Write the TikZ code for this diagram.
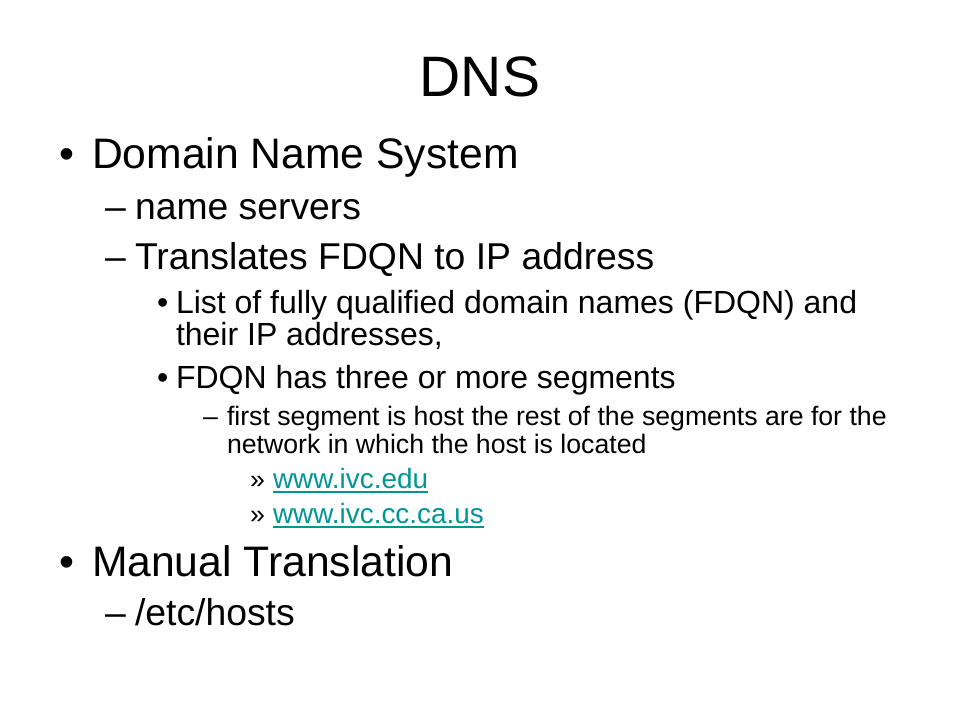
\documentclass[tikz,border=0pt]{standalone}
\usepackage{fontspec}
\setmainfont{Liberation Sans}
\definecolor{linkteal}{RGB}{0,150,150}
\tikzset{
  txt/.style={inner sep=0pt, outer sep=0pt, anchor=base west, text=black},
  lvtitle/.style={inner sep=0pt, outer sep=0pt, anchor=base, font=\fontsize{57bp}{60bp}\selectfont},
  lvone/.style={txt, font=\fontsize{42.67bp}{46bp}\selectfont},
  lvtwo/.style={txt, font=\fontsize{37.33bp}{40bp}\selectfont},
  lvthree/.style={txt, font=\fontsize{32bp}{34bp}\selectfont},
  lvfour/.style={txt, font=\fontsize{26.67bp}{28bp}\selectfont},
  linktxt/.style={txt, text=linkteal, font=\fontsize{27.9bp}{30bp}\selectfont},
  uline/.style={draw=linkteal, line width=1.9bp}
}
\begin{document}
\begin{tikzpicture}[x=1bp, y=-1bp]
\useasboundingbox[fill=white] (0,0) rectangle (960,720);
% title
\node[lvtitle] (title) at (480,96.7) {DNS};
% level 1
\node[lvone] (b1) at (59,169) {•};
\node[lvone] (dns) at (92,169) {Domain Name System};
% level 2
\node[lvtwo] (d1) at (105,219.5) {–};
\node[lvtwo] (ns) at (135,219.5) {name servers};
\node[lvtwo] (d2) at (105,269.5) {–};
\node[lvtwo] (tr) at (135,269.5) {Translates FDQN to IP address};
% level 3
\node[lvthree] (b2) at (157,313.3) {•};
\node[lvthree] (list1) at (176,313.3) {List of fully qualified domain names (FDQN) and};
\node[lvthree] (list2) at (176,345) {their IP addresses,};
\node[lvthree] (b3) at (157,388.3) {•};
\node[lvthree] (seg) at (176,388.3) {FDQN has three or more segments};
% level 4
\node[lvfour] (d3) at (203,425) {–};
\node[lvfour] (first1) at (227,425) {first segment is host the rest of the segments are for the};
\node[lvfour] (first2) at (227,453.3) {network in which the host is located};
% level 5
\node[lvfour] (r1) at (250,488.3) {»};
\node[linktxt] (l1) at (273,488.3) {www.ivc.edu};
\node[lvfour] (r2) at (250,523.3) {»};
\node[linktxt] (l2) at (273,523.3) {www.ivc.cc.ca.us};
\draw[uline] ([yshift=-3.9bp]l1.base west) -- ([yshift=-3.9bp]l1.base east);
\draw[uline] ([yshift=-3.9bp]l2.base west) -- ([yshift=-3.9bp]l2.base east);
% level 1
\node[lvone] (b4) at (59,576.7) {•};
\node[lvone] (man) at (92,576.7) {Manual Translation};
\node[lvtwo] (d4) at (105,625) {–};
\node[lvtwo] (hosts) at (135,625) {/etc/hosts};
\end{tikzpicture}
\end{document}
